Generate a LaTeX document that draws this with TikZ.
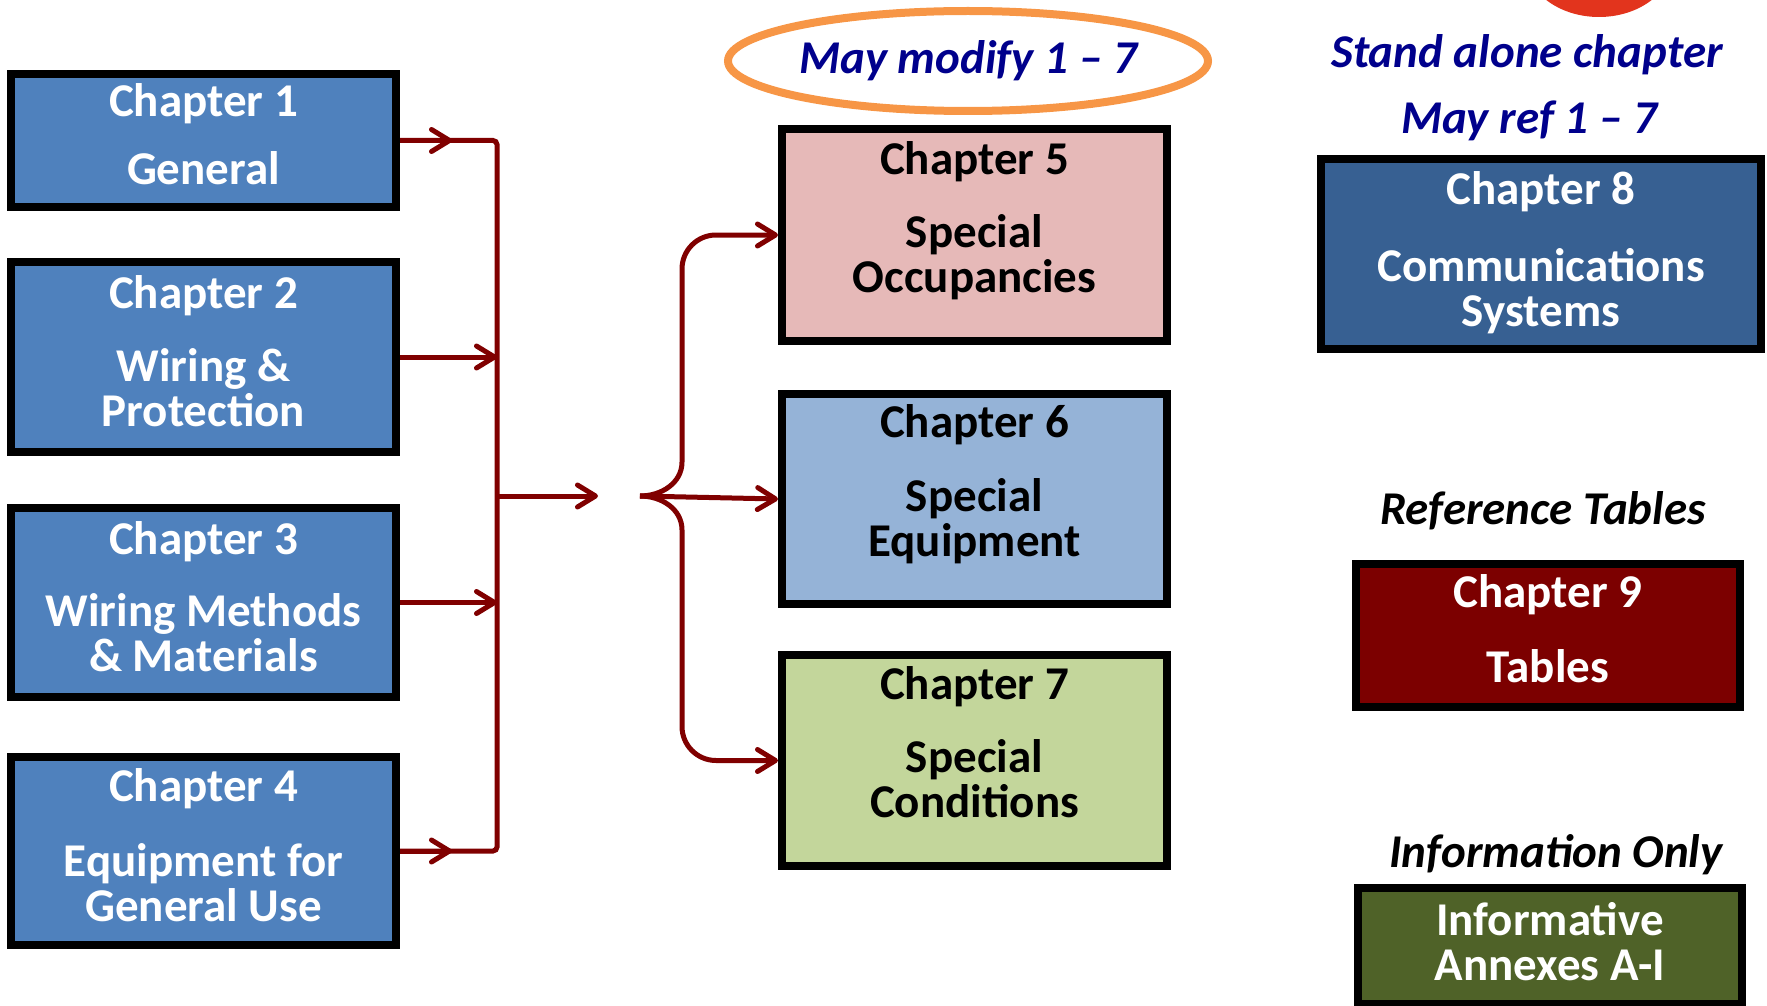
\documentclass[tikz,border=0pt]{standalone}
\usepackage{fontspec}
\setmainfont{Carlito}
\usetikzlibrary{arrows.meta}

\definecolor{chblue}{RGB}{79,129,189}
\definecolor{occpink}{RGB}{230,185,184}
\definecolor{equipblue}{RGB}{149,179,215}
\definecolor{condgreen}{RGB}{195,214,155}
\definecolor{commblue}{RGB}{55,96,146}
\definecolor{tablered}{RGB}{124,0,0}
\definecolor{annexgreen}{RGB}{79,98,40}
\definecolor{linkred}{RGB}{128,0,0}
\definecolor{notenavy}{RGB}{0,0,140}
\definecolor{ringorange}{RGB}{247,150,70}
\definecolor{blobred}{RGB}{226,52,29}

\tikzset{
    chapbox/.style={draw=black, line width=8pt, rectangle, align=center,
        font={\fontsize{47}{45}\selectfont\bfseries}, minimum width=385pt},
    lift/.style={execute at end node={\rule[-#1]{0pt}{0pt}}},
    leftbox/.style={chapbox, fill=chblue, text=white, lift=12pt},
    midbox/.style={chapbox, fill=#1, text=black, lift=36pt},
    note/.style={font={\fontsize{47}{45}\selectfont\bfseries\itshape}, inner sep=0pt},
    link/.style={draw=linkred, line width=5pt},
    linkarrow/.style={-{Straight Barb[length=18pt,width=22pt,round]}}
}

\begin{document}
\begin{tikzpicture}[x=1pt, y=-1pt]
            \useasboundingbox (0,0) rectangle (1767,1006);

            % left column
            \node[leftbox, minimum height=133pt] (ch1) at (203.5, 140.5) {Chapter 1\\[23pt]General};
            \node[leftbox, minimum height=190pt] (ch2) at (203.5, 357) {Chapter 2\\[28pt]Wiring \&\\Protection};
            \node[leftbox, minimum height=189pt] (ch3) at (203.5, 602.5) {Chapter 3\\[27pt]Wiring Methods\\\& Materials};
            \node[leftbox, minimum height=188pt] (ch4) at (203.5, 851) {Chapter 4\\[30pt]Equipment for\\General Use};

            % middle column
            \node[note, text=notenavy] (modify) at (968, 61) {May modify 1 -- 7};
            \draw[ringorange, line width=8pt] (modify) ellipse [x radius=240, y radius=50];
            \node[midbox=occpink, minimum height=212pt] (ch5) at (974.5, 235) {Chapter 5\\[28pt]Special\\Occupancies};
            \node[midbox=equipblue, minimum height=210pt] (ch6) at (974.5, 499) {Chapter 6\\[29pt]Special\\Equipment};
            \node[midbox=condgreen, minimum height=211pt] (ch7) at (974.5, 760.5) {Chapter 7\\[28pt]Special\\Conditions};

            % right column
            \fill[blobred] (1599, -40) ellipse [x radius=74, y radius=57];
            \node[note, text=notenavy] (standalone) at (1527, 55) {Stand alone chapter};
            \node[note, text=notenavy] (mayref) at (1529, 121) {May ref 1 -- 7};
            \node[chapbox, fill=commblue, text=white, minimum width=440pt, minimum height=190pt, lift=10pt] (ch8) at (1541, 254) {Chapter 8\\[32pt]Communications\\Systems};
            \node[note] (reftables) at (1543, 511) {Reference Tables};
            \node[chapbox, fill=tablered, text=white, minimum width=384pt, minimum height=143pt, lift=13pt] (ch9) at (1548, 635.5) {Chapter 9\\[30pt]Tables};
            \node[note] (infoonly) at (1556, 855) {Information Only};
            \node[chapbox, fill=annexgreen, text=white, minimum width=384pt, minimum height=116pt, lift=10pt] (annex) at (1550, 946) {Informative\\Annexes A-I};

            % connectors
            \coordinate (bus) at (497, 496);
            \coordinate (gapin) at (598, 496);
            \coordinate (fork) at (640, 496);
            \coordinate (brace) at (682, 496);

            \draw[link, rounded corners=4pt] (ch1.east) -- (ch1.east -| bus) -- (ch4.east -| bus) -- (ch4.east);
            \draw[link, linkarrow] (ch1.east) -- ++(52, 0);
            \draw[link, linkarrow] (ch4.east) -- ++(52, 0);
            \draw[link, linkarrow] (ch2.east) -- (ch2.east -| bus);
            \draw[link, linkarrow] (ch3.east) -- (ch3.east -| bus);
            \draw[link, linkarrow] (bus) -- (gapin);

            \draw[link, linkarrow] (fork) to[out=0, in=-90] ++(42, -34) [rounded corners=34pt] -- (brace |- ch5.west) -- (ch5.west);
            \draw[link, linkarrow] (fork) -- (ch6.west);
            \draw[link, linkarrow] (fork) to[out=0, in=90] ++(42, 34) [rounded corners=34pt] -- (brace |- ch7.west) -- (ch7.west);
\end{tikzpicture}
\end{document}
